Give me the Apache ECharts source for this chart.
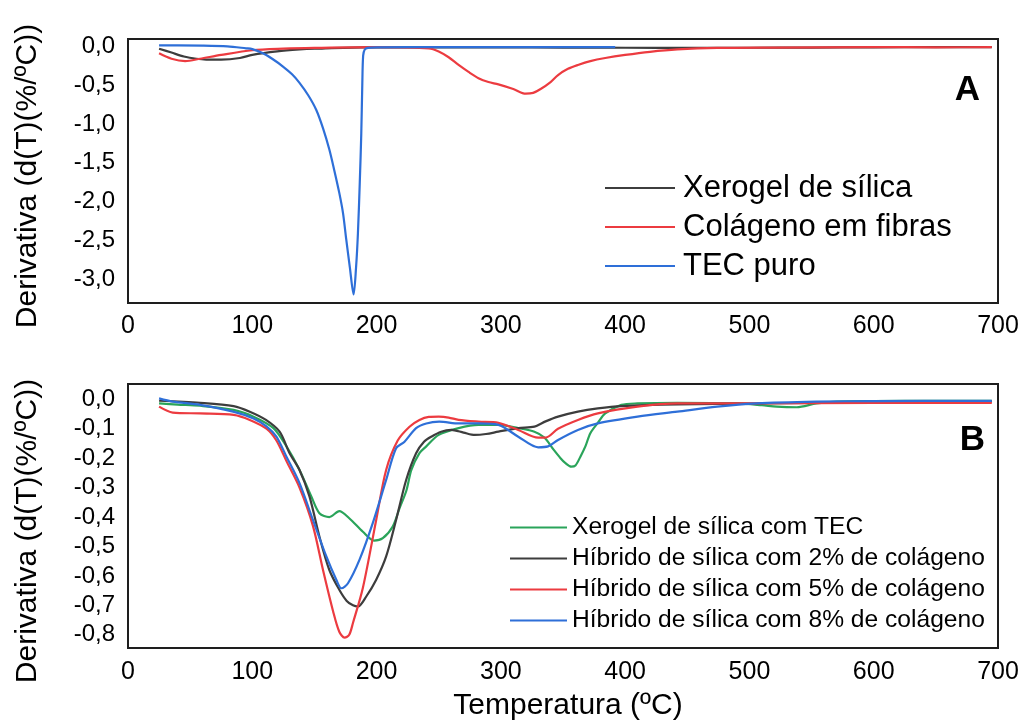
<!DOCTYPE html>
<html><head><meta charset="utf-8">
<script src="https://cdn.jsdelivr.net/npm/echarts@6/dist/echarts.min.js"></script>
<style>html,body{margin:0;padding:0;background:#fff}#c{width:1023px;height:724px}</style>
</head><body><div id="c"></div>
<script>
// ---------- Panel A data ----------
const xerogelA_T = [25, 35, 45, 55, 63, 75, 90, 100, 120, 138, 150, 190, 250, 300, 350, 400, 450, 500, 550, 600, 650, 695];
const xerogelA_D = [-0.03, -0.08, -0.13, -0.16, -0.17, -0.17, -0.15, -0.11, -0.065, -0.04, -0.03, -0.012, -0.012, -0.014, -0.015, -0.018, -0.02, -0.018, -0.015, -0.012, -0.01, -0.01];

const colagenoA_T = [25, 35, 46, 58, 75, 100, 125, 150, 200, 242, 250, 258, 266, 274, 282, 290, 298, 310, 320, 326, 332, 340, 346, 354, 362, 372, 384, 400, 420, 442, 474, 520, 600, 650, 695];
const colagenoA_D = [-0.09, -0.16, -0.19, -0.16, -0.11, -0.05, -0.03, -0.02, -0.01, -0.025, -0.065, -0.14, -0.24, -0.33, -0.41, -0.46, -0.49, -0.55, -0.61, -0.60, -0.55, -0.46, -0.37, -0.29, -0.24, -0.19, -0.15, -0.11, -0.07, -0.04, -0.02, -0.015, -0.01, -0.012, -0.01];

const tecA_T = [25, 40, 60, 80, 95, 100, 108.6, 116, 124.7, 132, 138, 145, 151.5, 157, 162, 166, 170, 173, 175.6, 178.5, 181.5, 183.5, 185, 186.5, 187.7, 188.5, 189.2, 190.5, 193, 200, 250, 300, 350, 392];
const tecA_D = [0.012, 0.012, 0.01, 0.0, -0.025, -0.035, -0.09, -0.16, -0.26, -0.36, -0.47, -0.63, -0.82, -1.06, -1.33, -1.6, -1.89, -2.15, -2.49, -2.85, -3.2, -2.85, -2.41, -1.75, -1.12, -0.5, -0.12, -0.04, -0.02, -0.012, -0.01, -0.01, -0.01, -0.01];

// ---------- Panel B data ----------
const tecB_T = [25, 40, 58, 85, 101, 117, 127.5, 138, 147.5, 154, 162, 170, 178, 189, 198, 205, 213, 218.5, 224, 228, 234.5, 240, 250, 266, 282, 298, 314, 327, 335, 342.6, 348, 352, 356.7, 360, 364, 368, 372, 378, 384, 397, 410, 442, 490, 510, 522, 538, 554, 570, 600, 650, 695];
const tecB_D = [-0.014, -0.018, -0.022, -0.036, -0.059, -0.098, -0.16, -0.24, -0.33, -0.387, -0.40, -0.38, -0.404, -0.45, -0.48, -0.472, -0.432, -0.37, -0.31, -0.24, -0.183, -0.16, -0.121, -0.098, -0.087, -0.087, -0.098, -0.11, -0.13, -0.172, -0.2, -0.217, -0.229, -0.225, -0.195, -0.16, -0.115, -0.08, -0.048, -0.019, -0.014, -0.012, -0.014, -0.02, -0.025, -0.027, -0.014, -0.008, -0.006, -0.005, -0.005];

const hib2_T = [25, 58, 85, 98, 111, 122, 130, 138, 146, 154, 162, 170, 176, 181, 185, 191.7, 199.7, 207.7, 215.7, 223.8, 231.8, 238, 244, 252, 260, 270, 279, 288, 298, 314, 327, 336, 346, 362, 378, 397, 442, 506, 600, 695];
const hib2_D = [-0.005, -0.012, -0.023, -0.042, -0.07, -0.11, -0.183, -0.24, -0.33, -0.466, -0.58, -0.647, -0.685, -0.70, -0.704, -0.67, -0.613, -0.534, -0.41, -0.274, -0.183, -0.145, -0.127, -0.11, -0.104, -0.113, -0.121, -0.118, -0.11, -0.098, -0.093, -0.075, -0.059, -0.042, -0.031, -0.023, -0.017, -0.014, -0.01, -0.008];

const hib5_T = [25, 36, 58, 85, 98, 111.4, 119.4, 127.5, 138, 148.8, 156.9, 165, 170, 174.3, 178, 181, 189, 199.7, 207.7, 217, 226.5, 234.5, 242, 250, 258, 266, 282, 298, 314, 330, 336, 346, 362, 378, 410, 442, 500, 600, 695];
const hib5_D = [-0.025, -0.045, -0.048, -0.053, -0.07, -0.10, -0.14, -0.21, -0.30, -0.43, -0.58, -0.72, -0.79, -0.81, -0.80, -0.76, -0.64, -0.41, -0.24, -0.14, -0.093, -0.07, -0.06, -0.059, -0.062, -0.07, -0.076, -0.08, -0.104, -0.13, -0.13, -0.10, -0.07, -0.048, -0.025, -0.014, -0.014, -0.012, -0.012];

const hib8_T = [25, 36, 58, 84.6, 101, 111.4, 119.4, 127.5, 138, 148.8, 159.6, 167.6, 171.7, 177, 186.3, 197, 207.7, 215.7, 222.5, 231.8, 240, 250.4, 266.4, 282, 298, 314, 330, 338, 346, 362, 378, 410, 442, 474, 506, 553.5, 600, 695];
const hib8_D = [0.003, -0.008, -0.019, -0.042, -0.065, -0.092, -0.127, -0.195, -0.285, -0.41, -0.534, -0.613, -0.642, -0.625, -0.545, -0.42, -0.274, -0.166, -0.144, -0.098, -0.082, -0.076, -0.082, -0.082, -0.087, -0.127, -0.163, -0.16, -0.138, -0.104, -0.082, -0.059, -0.042, -0.025, -0.014, -0.008, -0.006, -0.005];

// ---------- Tick labels ----------
const xTicks = [0, 100, 200, 300, 400, 500, 600, 700];
const yTicksA = [0, -0.5, -1.0, -1.5, -2.0, -2.5, -3.0];
const yTicksB = [0, -0.1, -0.2, -0.3, -0.4, -0.5, -0.6, -0.7, -0.8];

const namesA = ['Xerogel de sílica', 'Colágeno em fibras', 'TEC puro'];
const namesB = ['Xerogel de sílica com TEC', 'Híbrido de sílica com 2% de colágeno', 'Híbrido de sílica com 5% de colágeno', 'Híbrido de sílica com 8% de colágeno'];
const yTitle = 'Derivativa (d(T)(%/ºC))';
const xTitle = 'Temperatura (ºC)';

const C_BLACK = '#3d3d3d', C_RED = '#ec3b40', C_BLUE = '#2e6fd8', C_GREEN = '#2aa45a';
const FF = '"Liberation Sans", Arial, sans-serif';

function zip(t, d) { return t.map((v, i) => [v, d[i]]); }
function fmt(v) { return (Math.round(v * 10) / 10).toFixed(1).replace('.', ','); }

function line(name, t, d, color, idx) {
  return {
    name, type: 'line', xAxisIndex: idx, yAxisIndex: idx,
    data: zip(t, d), smooth: 0.3, symbol: 'none',
    lineStyle: { color, width: 2.2 }, itemStyle: { color }, silent: true, animation: false
  };
}

function xAxis(idx, margin) {
  return {
    type: 'value', gridIndex: idx, min: 0, max: 700, interval: 100,
    axisLine: { show: false }, axisTick: { show: false }, splitLine: { show: false },
    axisLabel: { fontSize: 25, fontFamily: FF, color: '#000', margin, customValues: xTicks }
  };
}
function yAxis(idx, min, max, ticks) {
  return {
    type: 'value', gridIndex: idx, min, max,
    axisLine: { show: false }, axisTick: { show: false }, splitLine: { show: false },
    axisLabel: { fontSize: 24, fontFamily: FF, color: '#000', margin: 13, customValues: ticks, formatter: fmt }
  };
}

const chart = echarts.init(document.getElementById('c'), null, { renderer: 'canvas' });
chart.setOption({
  animation: false,
  backgroundColor: '#fff',
  grid: [
    { left: 128, top: 39, width: 870, height: 264, show: true, borderColor: '#1e1e1e', borderWidth: 2, backgroundColor: 'transparent' },
    { left: 128, top: 384, width: 870, height: 264, show: true, borderColor: '#1e1e1e', borderWidth: 2, backgroundColor: 'transparent' }
  ],
  xAxis: [xAxis(0, 11), xAxis(1, 12)],
  yAxis: [yAxis(0, -3.31, 0.095, yTicksA), yAxis(1, -0.845, 0.052, yTicksB)],
  legend: [
    {
      data: namesA, left: 605, top: 172, orient: 'vertical', icon: 'rect',
      itemWidth: 70, itemHeight: 2, itemGap: 7, selectedMode: false, padding: 0,
      textStyle: { fontSize: 31, lineHeight: 32, fontFamily: FF, color: '#000', padding: [0, 0, 0, 3] }
    },
    {
      data: namesB, left: 510, top: 515, orient: 'vertical', icon: 'rect',
      itemWidth: 57, itemHeight: 2, itemGap: 6, selectedMode: false, padding: 0,
      textStyle: { fontSize: 24.6, lineHeight: 25, fontFamily: FF, color: '#000' }
    }
  ],
  graphic: [
    { type: 'text', x: 27.5, y: 176, rotation: Math.PI / 2, silent: true,
      style: { text: yTitle, fontSize: 30, fontFamily: FF, fill: '#000', textAlign: 'center', textVerticalAlign: 'middle' } },
    { type: 'text', x: 27.5, y: 531, rotation: Math.PI / 2, silent: true,
      style: { text: yTitle, fontSize: 30, fontFamily: FF, fill: '#000', textAlign: 'center', textVerticalAlign: 'middle' } },
    { type: 'text', x: 568, y: 706, silent: true,
      style: { text: xTitle, fontSize: 30, fontFamily: FF, fill: '#000', textAlign: 'center', textVerticalAlign: 'middle' } },
    { type: 'text', x: 967.5, y: 90, silent: true,
      style: { text: 'A', fontSize: 35, fontWeight: 'bold', fontFamily: FF, fill: '#000', textAlign: 'center', textVerticalAlign: 'middle' } },
    { type: 'text', x: 972.5, y: 440, silent: true,
      style: { text: 'B', fontSize: 35, fontWeight: 'bold', fontFamily: FF, fill: '#000', textAlign: 'center', textVerticalAlign: 'middle' } }
  ],
  series: [
    line(namesA[0], xerogelA_T, xerogelA_D, C_BLACK, 0),
    line(namesA[1], colagenoA_T, colagenoA_D, C_RED, 0),
    line(namesA[2], tecA_T, tecA_D, C_BLUE, 0),
    line(namesB[0], tecB_T, tecB_D, C_GREEN, 1),
    line(namesB[1], hib2_T, hib2_D, C_BLACK, 1),
    line(namesB[2], hib5_T, hib5_D, C_RED, 1),
    line(namesB[3], hib8_T, hib8_D, C_BLUE, 1)
  ]
});
</script></body></html>
